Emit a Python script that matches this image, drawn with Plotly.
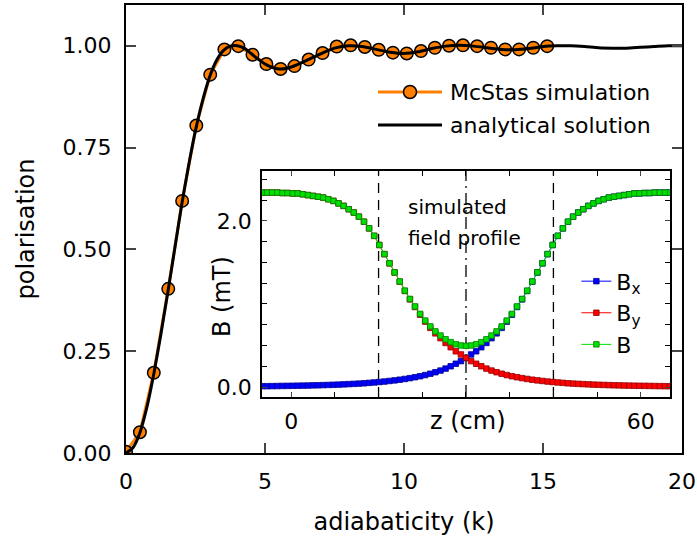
import plotly.graph_objects as go

FONT = "DejaVu Sans"

# ---------------- main plot data ----------------
k_sim = [0.0, 0.5, 1.0, 1.52, 2.02, 2.53, 3.03, 3.54, 4.04, 4.55, 5.05, 5.56, 6.06, 6.57, 7.07,
         7.58, 8.08, 8.59, 9.09, 9.6, 10.1, 10.61, 11.11, 11.62, 12.12, 12.63, 13.13, 13.64,
         14.14, 14.65, 15.15]
p_sim = [0.003, 0.051, 0.197, 0.403, 0.619, 0.804, 0.929, 0.991, 0.999, 0.978, 0.955, 0.943,
         0.950, 0.966, 0.982, 0.998, 1.001, 0.997, 0.990, 0.983, 0.981, 0.987, 0.995, 1.000,
         1.001, 0.999, 0.995, 0.991, 0.991, 0.995, 0.999]

k_an = [0.0, 0.25, 0.5, 0.75, 1.0, 1.25, 1.5, 1.75, 2.0, 2.25, 2.5, 2.75, 3.0, 3.25, 3.5, 3.75,
        4.0, 4.25, 4.5, 4.75, 5.0, 5.25, 5.5, 5.75, 6.0, 6.5, 7.0, 7.5, 8.0, 8.5, 9.0, 9.5,
        10.0, 10.5, 11.0, 11.5, 12.0, 12.5, 13.0, 13.5, 14.0, 14.5, 15.0, 15.5, 16.0, 16.5,
        17.0, 17.5, 18.0, 18.5, 19.0, 19.5, 20.0]
p_an = [0.0, 0.013, 0.05, 0.112, 0.194, 0.29, 0.393, 0.50, 0.608, 0.705, 0.792, 0.864, 0.922,
        0.963, 0.988, 0.999, 1.0, 0.994, 0.981, 0.967, 0.955, 0.947, 0.943, 0.944, 0.949,
        0.964, 0.980, 0.994, 1.0, 0.998, 0.991, 0.984, 0.981, 0.985, 0.993, 0.999, 1.001,
        0.999, 0.995, 0.991, 0.990, 0.993, 0.998, 1.0, 1.0, 0.998, 0.995, 0.994, 0.994,
        0.996, 0.998, 1.0, 1.0]

x_ticks = [0, 5, 10, 15, 20]
y_ticks = [0.0, 0.25, 0.5, 0.75, 1.0]

# ---------------- inset data ----------------
z_cm = [-5.0, -4.125, -3.25, -2.375, -1.5, -0.625, 0.25, 1.125, 2.0, 2.875, 3.75, 4.625, 5.5,
        6.375, 7.25, 8.125, 9.0, 9.875, 10.75, 11.625, 12.5, 13.375, 14.25, 15.125, 16.0,
        16.875, 17.75, 18.625, 19.5, 20.375, 21.25, 22.125, 23.0, 23.875, 24.75, 25.625,
        26.5, 27.375, 28.25, 29.125, 30.0, 30.875, 31.75, 32.625, 33.5, 34.375, 35.25,
        36.125, 37.0, 37.875, 38.75, 39.625, 40.5, 41.375, 42.25, 43.125, 44.0, 44.875,
        45.75, 46.625, 47.5, 48.375, 49.25, 50.125, 51.0, 51.875, 52.75, 53.625, 54.5,
        55.375, 56.25, 57.125, 58.0, 58.875, 59.75, 60.625, 61.5, 62.375, 63.25, 64.125, 65.0]
b_x = [0.010, 0.010, 0.011, 0.012, 0.013, 0.014, 0.015, 0.016, 0.017, 0.018,
       0.020, 0.021, 0.023, 0.025, 0.027, 0.029, 0.032, 0.035, 0.038, 0.041,
       0.045, 0.050, 0.055, 0.060, 0.066, 0.073, 0.080, 0.088, 0.097, 0.107,
       0.118, 0.130, 0.144, 0.160, 0.178, 0.198, 0.222, 0.250, 0.280, 0.312, 0.350,
       0.392, 0.430, 0.479, 0.530, 0.588, 0.646, 0.712, 0.787, 0.870, 0.963,
       1.055, 1.156, 1.267, 1.378, 1.488, 1.599, 1.709, 1.819, 1.909, 1.989,
       2.050, 2.100, 2.140, 2.180, 2.210, 2.240, 2.260, 2.280, 2.290, 2.300,
       2.310, 2.320, 2.330, 2.330, 2.335, 2.335, 2.340, 2.340, 2.340, 2.340]
b_y = [2.340, 2.340, 2.340, 2.340, 2.335, 2.335, 2.330, 2.330, 2.320, 2.310,
       2.300, 2.290, 2.280, 2.260, 2.240, 2.210, 2.180, 2.140, 2.100, 2.050,
       1.989, 1.909, 1.819, 1.709, 1.599, 1.488, 1.378, 1.267, 1.156, 1.055,
       0.963, 0.870, 0.787, 0.712, 0.646, 0.588, 0.530, 0.479, 0.430, 0.392, 0.350,
       0.312, 0.280, 0.250, 0.222, 0.198, 0.178, 0.160, 0.144, 0.130, 0.118,
       0.107, 0.097, 0.088, 0.080, 0.073, 0.066, 0.060, 0.055, 0.050, 0.045,
       0.041, 0.038, 0.035, 0.032, 0.029, 0.027, 0.025, 0.023, 0.021, 0.020,
       0.018, 0.017, 0.016, 0.015, 0.014, 0.013, 0.012, 0.011, 0.010, 0.010]
b_tot = [2.340, 2.340, 2.340, 2.340, 2.335, 2.335, 2.330, 2.330, 2.320, 2.310,
         2.300, 2.290, 2.280, 2.260, 2.240, 2.210, 2.180, 2.140, 2.100, 2.050,
         1.990, 1.910, 1.820, 1.710, 1.600, 1.490, 1.380, 1.270, 1.160, 1.060,
         0.970, 0.880, 0.800, 0.730, 0.670, 0.620, 0.575, 0.540, 0.515, 0.500, 0.495,
         0.500, 0.515, 0.540, 0.575, 0.620, 0.670, 0.730, 0.800, 0.880, 0.970,
         1.060, 1.160, 1.270, 1.380, 1.490, 1.600, 1.710, 1.820, 1.910, 1.990,
         2.050, 2.100, 2.140, 2.180, 2.210, 2.240, 2.260, 2.280, 2.290, 2.300,
         2.310, 2.320, 2.330, 2.330, 2.335, 2.335, 2.340, 2.340, 2.340, 2.340]

z_ticks = [0, 60]
z_minor_ticks = [7.5, 15, 22.5, 30, 37.5, 45, 52.5]
b_ticks = [0.0, 2.0]
b_minor_ticks = [0.25, 0.5, 0.75, 1.0, 1.25, 1.5, 1.75, 2.25, 2.5]
z_marks = [15, 45]      # dashed guide lines
z_centre = 30           # dash-dot guide line

ORANGE = "#FF8000"

fig = go.Figure()

# main traces
fig.add_trace(go.Scatter(
    x=k_sim, y=p_sim, mode="lines+markers", name="McStas simulation",
    line=dict(color=ORANGE, width=3),
    marker=dict(symbol="circle", size=12.5, color=ORANGE, line=dict(color="black", width=1.5)),
    showlegend=False, xaxis="x", yaxis="y"))
fig.add_trace(go.Scatter(
    x=k_an, y=p_an, mode="lines", name="analytical solution",
    line=dict(color="black", width=3, shape="spline", smoothing=0.6),
    showlegend=False, xaxis="x", yaxis="y"))

# inset traces
for name, vals, col, edge in [("B<sub>x</sub>", b_x, "#0000FF", "#000090"),
                              ("B<sub>y</sub>", b_y, "#FF0000", "#900000"),
                              ("B", b_tot, "#00E000", "#008000")]:
    fig.add_trace(go.Scatter(
        x=z_cm, y=vals, mode="lines+markers", name=name,
        line=dict(color=col, width=1),
        marker=dict(symbol="square", size=5.5, color=col, line=dict(color=edge, width=0.8)),
        xaxis="x2", yaxis="y2", legend="legend2"))

# ---------------- layout ----------------
axis_common = dict(showline=True, linecolor="black", mirror="ticks", ticks="inside",
                   showgrid=False, zeroline=False, automargin=False)

fig.update_layout(
    width=697, height=540,
    margin=dict(l=126, r=15, t=5, b=87),
    paper_bgcolor="white", plot_bgcolor="rgba(0,0,0,0)",
    font=dict(family=FONT, color="black", size=22),
    xaxis=dict(**axis_common, range=[0, 20], tickvals=x_ticks, linewidth=2, tickwidth=2,
               ticklen=10, tickfont=dict(size=22), ticklabelstandoff=8,
               title=dict(text="adiabaticity (k)", font=dict(size=24), standoff=20)),
    yaxis=dict(**axis_common, range=[0, 1.1], tickvals=y_ticks, tickformat=".2f",
               linewidth=2, tickwidth=2, ticklen=10, tickfont=dict(size=22),
               ticklabelstandoff=8,
               title=dict(text="polarisation", font=dict(size=24), standoff=21)),
    xaxis2=dict(**axis_common, domain=[0.2446, 0.9784], anchor="y2", range=[-5, 65],
                tickvals=z_ticks, linewidth=1.5, tickwidth=1, ticklen=5,
                minor=dict(tickvals=z_minor_ticks, ticks="inside", ticklen=5, tickwidth=1,
                           tickcolor="black", showgrid=False),
                tickfont=dict(size=22), ticklabelstandoff=4),
    yaxis2=dict(**axis_common, domain=[0.125, 0.6295], anchor="x2", range=[-0.12, 2.6],
                tickvals=b_ticks, tickformat=".1f", linewidth=1.5, tickwidth=1, ticklen=5,
                minor=dict(tickvals=b_minor_ticks, ticks="inside", ticklen=5, tickwidth=1,
                           tickcolor="black", showgrid=False),
                tickfont=dict(size=22), ticklabelstandoff=4),
    legend2=dict(x=0.81, y=0.43, xanchor="left", yanchor="top", bgcolor="rgba(0,0,0,0)",
                 font=dict(size=22, family=FONT), tracegroupgap=0, itemwidth=30),
)

# guide lines in inset (drawn beneath the data markers)
shapes = []
for zm in z_marks:
    shapes.append(dict(type="line", xref="x2", yref="y2 domain", x0=zm, x1=zm, y0=0, y1=1,
                       line=dict(color="black", width=1.3, dash="10px,7px"), layer="below"))
shapes.append(dict(type="line", xref="x2", yref="y2 domain", x0=z_centre, x1=z_centre, y0=0, y1=1,
                   line=dict(color="black", width=1.3, dash="12px,5px,2px,5px"), layer="below"))

# main legend (hand drawn to match the long line samples)
def px(xp):
    return (xp - 126) / 556.0

def py(yp):
    return (453 - yp) / 448.0

shapes.append(dict(type="line", xref="paper", yref="paper", x0=px(378), x1=px(442),
                   y0=py(92), y1=py(92), line=dict(color=ORANGE, width=3)))
shapes.append(dict(type="circle", xref="paper", yref="paper", xsizemode="pixel",
                   ysizemode="pixel", xanchor=px(410), yanchor=py(92), x0=-6.5, x1=6.5,
                   y0=-6.5, y1=6.5, fillcolor=ORANGE, line=dict(color="black", width=1.5)))
shapes.append(dict(type="line", xref="paper", yref="paper", x0=px(378), x1=px(442),
                   y0=py(125), y1=py(125), line=dict(color="black", width=3)))
fig.update_layout(shapes=shapes)

annotations = [
    dict(text="McStas simulation", xref="paper", yref="paper", x=px(448), y=py(92),
         xanchor="left", yanchor="middle", showarrow=False, font=dict(size=22)),
    dict(text="analytical solution", xref="paper", yref="paper", x=px(448), y=py(125),
         xanchor="left", yanchor="middle", showarrow=False, font=dict(size=22)),
    dict(text="simulated", xref="paper", yref="paper", x=px(406), y=py(207),
         xanchor="left", yanchor="middle", showarrow=False, font=dict(size=20)),
    dict(text="field profile", xref="paper", yref="paper", x=px(406), y=py(238),
         xanchor="left", yanchor="middle", showarrow=False, font=dict(size=20)),
    dict(text="B (mT)", xref="paper", yref="paper", x=px(222), y=py(297),
         xanchor="center", yanchor="middle", textangle=-90, showarrow=False,
         font=dict(size=24)),
    dict(text="z (cm)", xref="paper", yref="paper", x=px(468), y=py(421),
         xanchor="center", yanchor="middle", showarrow=False, font=dict(size=24)),
]
fig.update_layout(annotations=annotations)

fig.write_html("out.html", config={"displayModeBar": False},
               post_script="document.body.style.margin='0';document.body.style.overflow='hidden';")
